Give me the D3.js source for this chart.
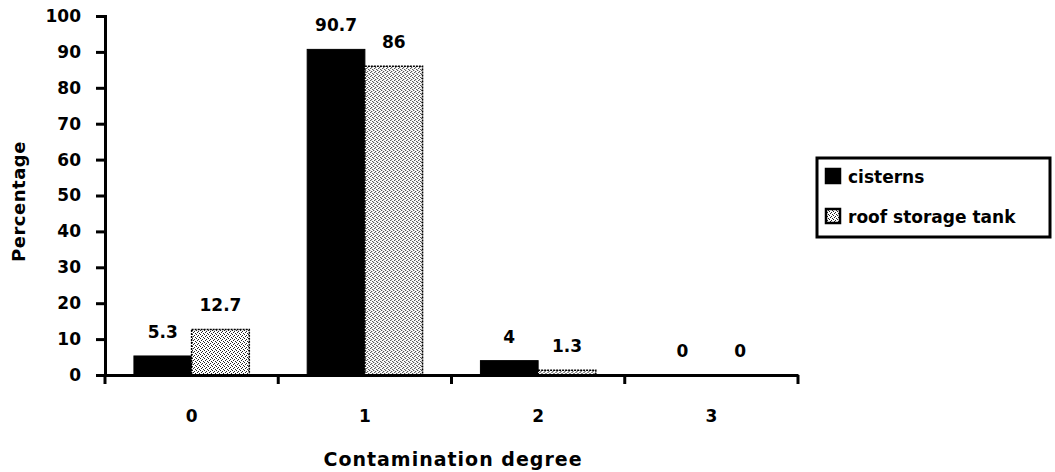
<!DOCTYPE html>
<html>
<head>
<meta charset="utf-8">
<script src="https://cdn.jsdelivr.net/npm/d3@7"></script>
<style>
  body { margin: 0; background: #fff; }
  text { font-family: "DejaVu Sans", Arial, sans-serif; font-weight: bold; fill: #000; }
</style>
</head>
<body>
<svg id="chart" width="1055" height="472"></svg>
<script>
// Data ---------------------------------------------------------------------------------------
const degrees = ["0", "1", "2", "3"];
const seriesNames = ["cisterns", "roof storage tank"];
const cisterns = [5.3, 90.7, 4, 0];
const roofTank = [12.7, 86, 1.3, 0];
const yTicks = [0, 10, 20, 30, 40, 50, 60, 70, 80, 90, 100];

const rows = degrees.map((d, i) => ({degree: d, values: [cisterns[i], roofTank[i]]}));

// Dimensions ---------------------------------------------------------------------------------
const margin = {left: 105, top: 16, right: 257, bottom: 97};
const width = 1055 - margin.left - margin.right,
      height = 472 - margin.top - margin.bottom;

const svg = d3.select("#chart");

// Dot pattern for roof storage tank
const defs = svg.append("defs");
const pat = defs.append("pattern")
  .attr("id", "dots")
  .attr("width", 4).attr("height", 4)
  .attr("patternUnits", "userSpaceOnUse");
pat.append("rect").attr("width", 4).attr("height", 4).attr("fill", "#fff");
[[0, 0], [2, 1], [1, 3], [3, 2]].forEach(p => {
  pat.append("rect").attr("x", p[0]).attr("y", p[1]).attr("width", 1).attr("height", 1).attr("fill", "#222");
});

const fills = ["#000", "url(#dots)"];

const g = svg.append("g").attr("transform", `translate(${margin.left},${margin.top})`);

// Scales -------------------------------------------------------------------------------------
const x = d3.scaleBand().domain(degrees).range([0, width]).paddingInner(0).paddingOuter(0);
const xInner = d3.scaleBand().domain([0, 1]).range([x.bandwidth() * 0.167, x.bandwidth() * 0.833]);
const y = d3.scaleLinear().domain([0, 100]).range([height, 0]);

// Bars ---------------------------------------------------------------------------------------
const groups = g.selectAll(".grp").data(rows).enter().append("g")
  .attr("class", "grp")
  .attr("transform", d => `translate(${x(d.degree)},0)`);

groups.selectAll("rect").data(d => d.values.map((v, k) => ({v, k}))).enter()
  .append("rect")
  .attr("x", d => xInner(d.k))
  .attr("y", d => y(d.v))
  .attr("width", xInner.bandwidth())
  .attr("height", d => height - y(d.v))
  .attr("fill", d => fills[d.k])
  .attr("stroke", "#000")
  .attr("stroke-width", d => d.k === 1 ? 1.5 : 1)
  .attr("stroke-dasharray", d => d.k === 1 ? "2,1" : null);

groups.selectAll(".lbl").data(d => d.values.map((v, k) => ({v, k}))).enter()
  .append("text")
  .attr("class", "lbl")
  .attr("x", d => xInner(d.k) + xInner.bandwidth() / 2)
  .attr("y", d => y(d.v) - 18)
  .attr("text-anchor", "middle")
  .style("font-size", "17px")
  .text(d => d.v);

// Axes ---------------------------------------------------------------------------------------
const yAxis = g.append("g")
  .call(d3.axisLeft(y).tickValues(yTicks).tickSize(9).tickPadding(15));
yAxis.selectAll("text").style("font-size", "17px");

const xAxis = g.append("g")
  .attr("transform", `translate(0,${height})`)
  .call(d3.axisBottom(x).tickSize(0).tickPadding(35));
xAxis.selectAll("text").style("font-size", "17px");

// tick marks between categories (below the axis)
const edges = degrees.map(d => x(d)).concat([width]);
g.append("g").selectAll("line").data(edges).enter().append("line")
  .attr("x1", d => d).attr("x2", d => d)
  .attr("y1", height).attr("y2", height + 9)
  .attr("stroke", "#000").attr("stroke-width", 3);

svg.selectAll(".domain").attr("stroke", "#000").attr("stroke-width", 3);
svg.selectAll(".tick line").attr("stroke", "#000").attr("stroke-width", 3);

// Axis titles --------------------------------------------------------------------------------
svg.append("text")
  .attr("transform", `translate(25,${margin.top + height / 2 + 6}) rotate(-90)`)
  .attr("text-anchor", "middle")
  .style("font-size", "18px")
  .style("letter-spacing", "0.5px")
  .text("Percentage");

svg.append("text")
  .attr("x", 453)
  .attr("y", 466)
  .attr("text-anchor", "middle")
  .style("font-size", "19px")
  .style("letter-spacing", "1px")
  .text("Contamination degree");

// Legend -------------------------------------------------------------------------------------
const legend = svg.append("g").attr("transform", "translate(817,158)");
legend.append("rect")
  .attr("width", 233).attr("height", 79)
  .attr("fill", "#fff").attr("stroke", "#000").attr("stroke-width", 3);

seriesNames.forEach((name, i) => {
  const row = legend.append("g").attr("transform", `translate(9,${11 + i * 40})`);
  row.append("rect")
    .attr("width", 14).attr("height", 14)
    .attr("fill", i === 0 ? "#000" : "url(#dots)")
    .attr("stroke", "#000").attr("stroke-width", 2.5);
  row.append("text")
    .attr("x", 22).attr("y", 14)
    .style("font-size", "17px")
    .text(name);
});
</script>
</body>
</html>
